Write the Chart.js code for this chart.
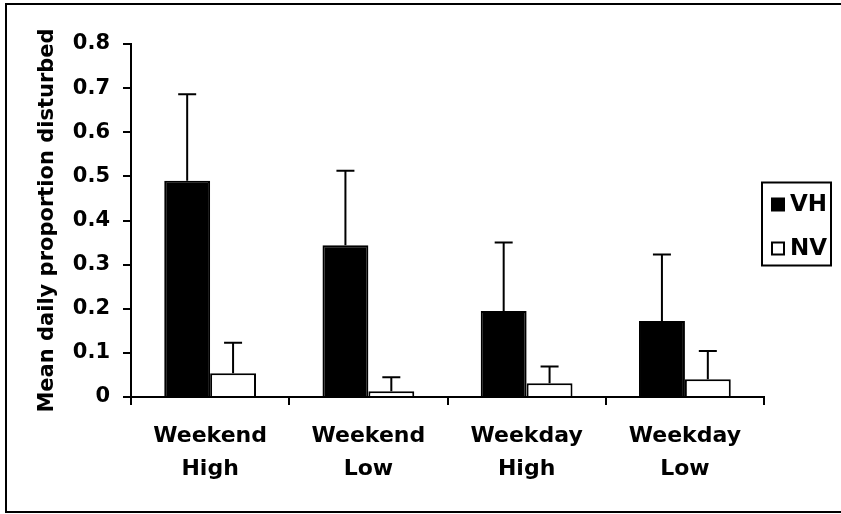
<!DOCTYPE html>
<html>
<head>
<meta charset="utf-8">
<script src="https://cdn.jsdelivr.net/npm/chart.js@4/dist/chart.umd.min.js"></script>
<style>
  html, body { margin: 0; padding: 0; background: #ffffff; }
  #wrap { position: relative; width: 841px; height: 514px; }
</style>
</head>
<body>
<div id="wrap"><canvas id="c" width="841" height="514"></canvas></div>
<script>
// Study periods (two-line axis labels)
const categories = [['Weekend', 'High'], ['Weekend', 'Low'], ['Weekday', 'High'], ['Weekday', 'Low']];

// Mean daily proportion disturbed and upper error amount per group
const vhMean = [0.490, 0.344, 0.195, 0.172];
const vhErr  = [0.196, 0.169, 0.155, 0.151];
const nvMean = [0.054, 0.013, 0.031, 0.040];
const nvErr  = [0.069, 0.032, 0.038, 0.064];

const seriesNames = ['VH', 'NV'];
const yTickLabels = ['0', '0.1', '0.2', '0.3', '0.4', '0.5', '0.6', '0.7', '0.8'];
const yTitle = 'Mean daily proportion disturbed';

const FONT = "'DejaVu Sans', 'Liberation Sans', Arial, sans-serif";
const errors = [vhErr, nvErr];

// Upward error bars drawn from each bar's top
const errorBars = {
  id: 'errorBars',
  afterDatasetsDraw(chart) {
    const ctx = chart.ctx;
    const yScale = chart.scales.y;
    ctx.save();
    ctx.strokeStyle = '#000';
    ctx.lineWidth = 2;
    chart.data.datasets.forEach((ds, i) => {
      const meta = chart.getDatasetMeta(i);
      meta.data.forEach((bar, j) => {
        const top = yScale.getPixelForValue(ds.data[j] + errors[i][j]);
        ctx.beginPath();
        ctx.moveTo(bar.x, bar.y);
        ctx.lineTo(bar.x, top);
        ctx.moveTo(bar.x - 9, top);
        ctx.lineTo(bar.x + 9, top);
        ctx.stroke();
      });
    });
    ctx.restore();
  }
};

// Boxed legend to the right of the plot, plus the outer frame
const boxedLegend = {
  id: 'boxedLegend',
  afterDraw(chart) {
    const ctx = chart.ctx;
    const ca = chart.chartArea;
    const left = ca.right - 2;
    const top = (ca.top + ca.bottom) / 2 - 38;
    const w = 69, h = 83;
    ctx.save();
    ctx.strokeStyle = '#000';
    ctx.lineWidth = 2;
    ctx.strokeRect(left, top, w, h);
    ctx.font = 'bold 23px ' + FONT;
    ctx.textBaseline = 'middle';
    ctx.textAlign = 'left';
    chart.data.datasets.forEach((ds, i) => {
      const cy = top + 22 + i * 44;
      ctx.fillStyle = ds.backgroundColor;
      ctx.fillRect(left + 10, cy - 6, 12, 12);
      ctx.lineWidth = 2;
      ctx.strokeRect(left + 10, cy - 6, 12, 12);
      ctx.fillStyle = '#000';
      ctx.fillText(ds.label, left + 28, cy + 1);
    });
    // outer frame: top, left and bottom edges
    ctx.lineWidth = 2;
    ctx.beginPath();
    ctx.moveTo(chart.width, 4);
    ctx.lineTo(6, 4);
    ctx.lineTo(6, 512);
    ctx.lineTo(chart.width, 512);
    ctx.stroke();
    ctx.restore();
  }
};

new Chart(document.getElementById('c'), {
  type: 'bar',
  data: {
    labels: categories,
    datasets: [
      { label: seriesNames[0], data: vhMean, backgroundColor: '#000000', borderColor: '#000000', borderWidth: 2 },
      { label: seriesNames[1], data: nvMean, backgroundColor: '#ffffff', borderColor: '#000000', borderWidth: 2 }
    ]
  },
  options: {
    responsive: false,
    animation: false,
    devicePixelRatio: 1,
    categoryPercentage: 0.58,
    barPercentage: 1.0,
    layout: { padding: { left: 10, top: 44, right: 77, bottom: 10 } },
    plugins: {
      legend: { display: false },
      tooltip: { enabled: false }
    },
    scales: {
      x: {
        afterFit(scale) { scale.height = 107; },
        grid: { offset: true, drawOnChartArea: false, tickLength: 8, color: '#000', lineWidth: 2 },
        border: { display: true, color: '#000', width: 2 },
        ticks: {
          color: '#000',
          padding: 15,
          maxRotation: 0,
          font: { family: FONT, size: 22, weight: 'bold', lineHeight: 1.5 }
        }
      },
      y: {
        min: 0,
        max: 0.8,
        afterFit(scale) { scale.width = 121; },
        grid: { drawOnChartArea: false, tickLength: 8, color: '#000', lineWidth: 2 },
        border: { display: true, color: '#000', width: 2 },
        ticks: {
          stepSize: 0.1,
          color: '#000',
          padding: 13,
          font: { family: FONT, size: 21, weight: 'bold' },
          callback: (value, index) => yTickLabels[index]
        },
        title: {
          display: true,
          text: yTitle,
          color: '#000',
          padding: { top: 25, bottom: 0 },
          font: { family: FONT, size: 21, weight: 'bold' }
        }
      }
    }
  },
  plugins: [errorBars, boxedLegend]
});
</script>
</body>
</html>
